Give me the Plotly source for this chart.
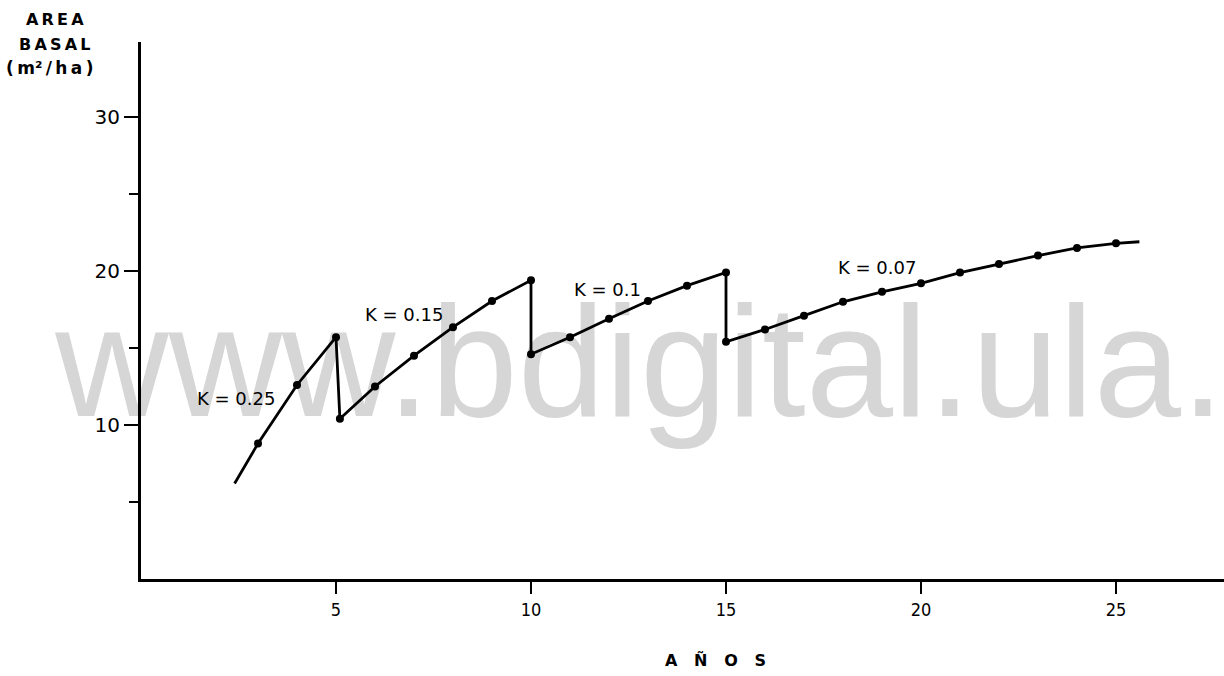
import plotly.graph_objects as go

# Basal area (m2/ha) over the rotation, one growth segment per thinning regime
k025_years = [2.4, 3, 4, 5]
k025_ba = [6.2, 8.8, 12.6, 15.7]

k015_years = [5.1, 6, 7, 8, 9, 10]
k015_ba = [10.4, 12.5, 14.5, 16.35, 18.05, 19.4]

k010_years = [10, 11, 12, 13, 14, 15]
k010_ba = [14.6, 15.7, 16.9, 18.05, 19.05, 19.9]

k007_years = [15, 16, 17, 18, 19, 20, 21, 22, 23, 24, 25, 25.6]
k007_ba = [15.4, 16.2, 17.1, 18.0, 18.65, 19.2, 19.9, 20.45, 21.0, 21.5, 21.8, 21.9]

segment_labels = ["K = 0.25", "K = 0.15", "K = 0.1", "K = 0.07"]
label_x = [2.44, 6.74, 11.97, 18.87]
label_y = [11.75, 17.2, 18.77, 20.26]

x_ticks = [5, 10, 15, 20, 25]
y_ticks = [10, 20, 30]
y_minor_ticks = [5, 15, 25]

# full path: growth curves joined by the vertical drops at each thinning
path_x = k025_years + k015_years + k010_years + k007_years
path_y = k025_ba + k015_ba + k010_ba + k007_ba

# measured points: every path vertex except the open curve ends
dots_x = path_x[1:-1]
dots_y = path_y[1:-1]

W, H = 1224, 676
L, R, T, B = 141, 0, 42, 97
plot_w = W - L - R
plot_h = H - T - B
PX_PER_YEAR = 39.0
PX_PER_UNIT = 15.4


def paper_x(px):
    return (px - L) / plot_w


def paper_y(py):
    return (H - B - py) / plot_h


fig = go.Figure()

# repository watermark, kept underneath the curves
fig.add_trace(go.Scatter(
    x=[(640 - L) / PX_PER_YEAR], y=[(H - B - 377) / PX_PER_UNIT], mode="text",
    text=["www.bdigital.ula."], textposition="middle center",
    textfont=dict(family="Liberation Sans, Arial, sans-serif", size=157, color="#d6d6d6"),
    cliponaxis=False, hoverinfo="skip", showlegend=False,
))

fig.add_trace(go.Scatter(
    x=path_x, y=path_y, mode="lines",
    line=dict(color="black", width=2.8),
    hoverinfo="skip", showlegend=False,
))

fig.add_trace(go.Scatter(
    x=dots_x, y=dots_y, mode="markers",
    marker=dict(color="black", size=8),
    showlegend=False,
))

label_font = dict(family="DejaVu Sans, sans-serif", size=18, color="black")
for txt, lx, ly in zip(segment_labels, label_x, label_y):
    fig.add_annotation(x=lx, y=ly, xref="x", yref="y", text=txt,
                       xanchor="center", yanchor="middle",
                       showarrow=False, font=label_font)

title_font = dict(family="DejaVu Sans, sans-serif", size=16, color="black", weight="bold")
title_lines = [
    ("A\u2009R\u2009E\u2009A", 55, 20, 16),
    ("B\u2009A\u2009S\u2009A\u2009L", 54, 44, 16),
    ("(\u2009m\u00b2\u2009/\u2009h\u2009a\u2009)", 49, 68, 17),
]
for txt, px, py, fs in title_lines:
    fig.add_annotation(x=paper_x(px), y=paper_y(py), xref="paper", yref="paper",
                       xanchor="center", yanchor="middle",
                       text=txt, showarrow=False, font=dict(title_font, size=fs))

fig.add_annotation(x=paper_x(715), y=paper_y(660), xref="paper", yref="paper",
                   xanchor="center", yanchor="middle",
                   text="A   Ñ   O   S", showarrow=False,
                   font=dict(family="DejaVu Sans, sans-serif", size=16, color="black", weight="bold"))

tick_font = dict(family="DejaVu Sans, sans-serif", size=20, color="black")

fig.update_layout(
    width=W, height=H, autosize=False,
    margin=dict(l=L, r=R, t=T, b=B, pad=0),
    paper_bgcolor="white", plot_bgcolor="white",
    xaxis=dict(
        range=[0, plot_w / PX_PER_YEAR], showgrid=False, zeroline=False,
        showline=True, linewidth=3, linecolor="black",
        ticks="outside", tickvals=x_ticks, ticklen=12, tickwidth=2, tickcolor="black",
        tickfont=dict(family="DejaVu Sans Condensed, DejaVu Sans, sans-serif", size=18, color="black"),
        fixedrange=True,
    ),
    yaxis=dict(
        range=[0, plot_h / PX_PER_UNIT], showgrid=False, zeroline=False,
        showline=True, linewidth=3, linecolor="black",
        ticks="outside", tickvals=y_ticks, ticklen=14, tickwidth=2, tickcolor="black",
        tickfont=tick_font,
        minor=dict(tickvals=y_minor_ticks, ticks="outside", ticklen=9, tickwidth=2,
                   tickcolor="black", showgrid=False),
        fixedrange=True,
    ),
)

fig.write_html("out.html")
